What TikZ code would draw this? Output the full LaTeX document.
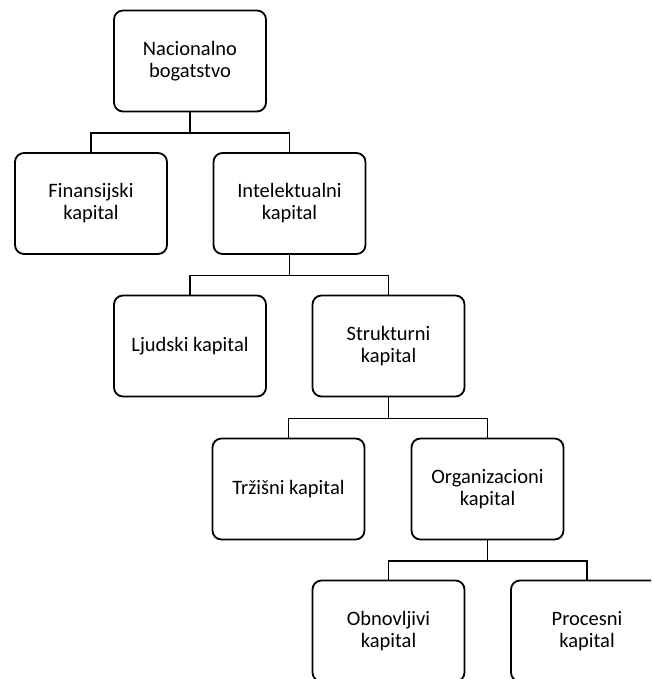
\documentclass[tikz,border=0pt]{standalone}
\usepackage{fontspec}
\setmainfont{Carlito}
\tikzset{
  box/.style={draw=black, line width=1.8pt, rounded corners=9pt, minimum width=152pt, minimum height=101pt, inner sep=0pt, align=center, font=\fontsize{20.5}{22}\selectfont},
  link/.style={draw=black, line width=1.8pt}
}
\begin{document}
\begin{tikzpicture}[x=1pt,y=-1pt]
\useasboundingbox (0,0) rectangle (651,679);
\clip (0,0) rectangle (651,679);
\node[box] (root) at (190,61) {Nacionalno\\bogatstvo};
\node[box] (fin) at (91,203.5) {Finansijski\\kapital};
\node[box] (int) at (289.5,203.5) {Intelektualni\\kapital};
\node[box] (lj) at (190,346) {Ljudski kapital};
\node[box] (str) at (388.5,346) {Strukturni\\kapital};
\node[box] (trz) at (288.5,489) {Tržišni kapital};
\node[box] (org) at (487.5,489) {Organizacioni\\kapital};
\node[box] (obn) at (388.5,631) {Obnovljivi\\kapital};
\node[box] (pro) at (587,631) {Procesni\\kapital};
\path (root.south) -- ++(0,21) coordinate (b1);
\path (int.south) -- ++(0,20.5) coordinate (b2);
\path (str.south) -- ++(0,21) coordinate (b3);
\path (org.south) -- ++(0,20.5) coordinate (b4);
\draw[link] (root.south) -- (b1);
\draw[link] (fin.north) |- (b1) -| (int.north);
\draw[link] (int.south) -- (b2);
\draw[link] (lj.north) |- (b2) -| (str.north);
\draw[link] (str.south) -- (b3);
\draw[link] (trz.north) |- (b3) -| (org.north);
\draw[link] (org.south) -- (b4);
\draw[link] (obn.north) |- (b4) -| (pro.north);
\end{tikzpicture}
\end{document}
